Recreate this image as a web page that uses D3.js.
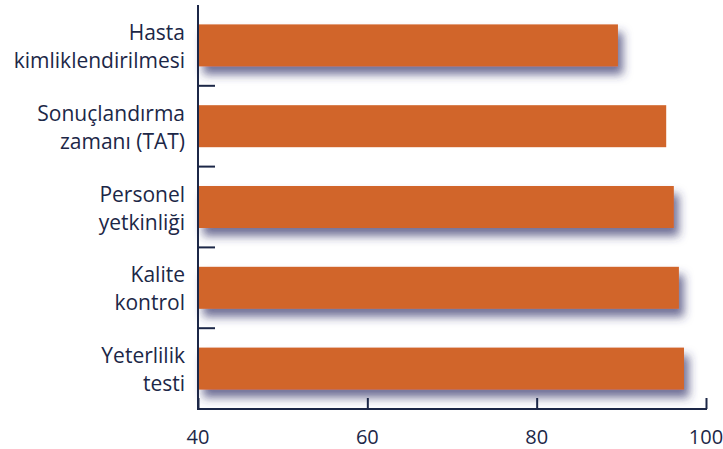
<!DOCTYPE html>
<html><head><meta charset="utf-8">
<script src="https://cdn.jsdelivr.net/npm/d3@7"></script>
<style>body{margin:0;background:#fff}svg{display:block}</style>
</head><body>
<svg id="chart" width="723" height="449"></svg>
<script>
const categories = [["Hasta","kimliklendirilmesi"],["Sonuçlandırma","zamanı (TAT)"],["Personel","yetkinliği"],["Kalite","kontrol"],["Yeterlilik","testi"]];
const values = [89.6, 95.3, 96.2, 96.8, 97.4];
const xTicks = [40, 60, 80, 100];

const svg = d3.select("#chart");
const navy = "#1c2747";
const barColor = "#d1652a";
const font = "'Open Sans', sans-serif";

const defs = svg.append("defs");
const f = defs.append("filter").attr("id","shadow").attr("x","-10%").attr("y","-40%").attr("width","130%").attr("height","220%");
f.append("feDropShadow").attr("dx",5).attr("dy",8).attr("stdDeviation",5)
  .attr("flood-color","#34346a").attr("flood-opacity",0.7);

const x = d3.scaleLinear().domain([40,100]).range([198,706]);
const y = d3.scaleBand().domain(d3.range(categories.length)).range([5,409]).paddingInner(0.48).paddingOuter(0.24);
const yEdge = d3.scaleBand().domain(d3.range(categories.length)).range([5,409]);

// bars
svg.append("g").selectAll("rect").data(values).join("rect")
  .attr("x", x(40))
  .attr("y", (d,i)=>y(i))
  .attr("width", d=>x(d)-x(40))
  .attr("height", y.bandwidth())
  .attr("fill", barColor)
  .attr("filter", (d,i)=> i===1 ? null : "url(#shadow)");

// x axis
const xAxis = d3.axisTop(x).tickValues(xTicks).tickSize(11).tickFormat("");
const gx = svg.append("g").attr("transform",`translate(0,${yEdge.range()[1]})`).call(xAxis);
gx.select(".domain").attr("stroke",navy).attr("stroke-width",2).attr("d",`M${x(40)-1},0H${x(100)+1}`);
gx.selectAll(".tick line").attr("stroke",navy).attr("stroke-width",2);
svg.append("g").selectAll("text").data(xTicks).join("text")
  .attr("x", d=>x(d)).attr("y", 444)
  .attr("text-anchor","middle")
  .attr("font-family",font).attr("font-size",20).attr("fill",navy)
  .text(d=>d);

// y axis line + category boundary ticks
svg.append("line").attr("x1",x(40)).attr("x2",x(40)).attr("y1",5).attr("y2",yEdge.range()[1])
  .attr("stroke",navy).attr("stroke-width",2);
svg.append("g").selectAll("line").data(d3.range(1,categories.length)).join("line")
  .attr("x1",x(40)).attr("x2",x(40)+17)
  .attr("y1",i=>yEdge(i)).attr("y2",i=>yEdge(i))
  .attr("stroke",navy).attr("stroke-width",2);

// category labels
const lbl = svg.append("g").selectAll("text").data(categories).join("text")
  .attr("text-anchor","end")
  .attr("font-family",font).attr("font-size",21).attr("fill",navy);
lbl.each(function(lines,i){
  const c = yEdge(i)+yEdge.bandwidth()/2 + 1;
  d3.select(this).selectAll("tspan").data(lines).join("tspan")
    .attr("x",185).attr("y",(d,j)=>c + (j-0.5)*28 + 7.5)
    .text(d=>d);
});
</script>
</body></html>
